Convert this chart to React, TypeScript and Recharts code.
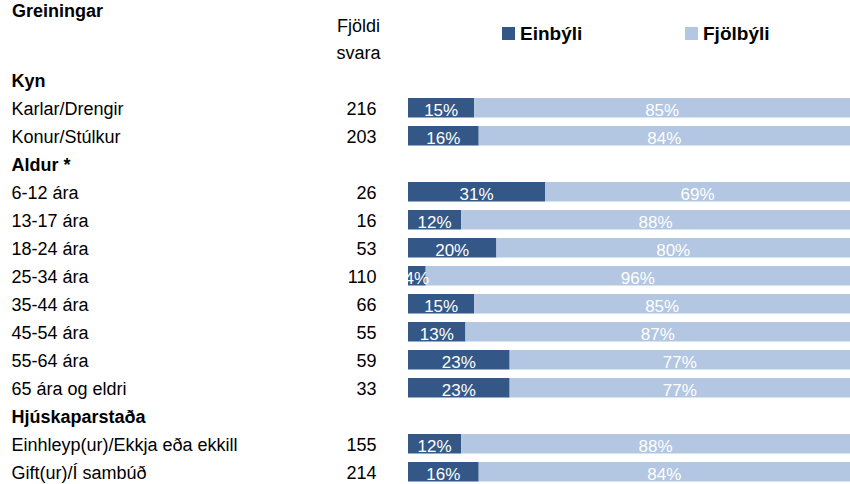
import React from 'react';
import { BarChart, Bar, XAxis, YAxis, LabelList } from 'recharts';

// rows in the order shown, group headings have no count / values
const categories = [
  'Kyn',
  'Karlar/Drengir',
  'Konur/Stúlkur',
  'Aldur *',
  '6-12 ára',
  '13-17 ára',
  '18-24 ára',
  '25-34 ára',
  '35-44 ára',
  '45-54 ára',
  '55-64 ára',
  '65 ára og eldri',
  'Hjúskaparstaða',
  'Einhleyp(ur)/Ekkja eða ekkill',
  'Gift(ur)/Í sambúð',
];
const counts = [null, 216, 203, null, 26, 16, 53, 110, 66, 55, 59, 33, null, 155, 214];
const einbyli = [null, 15, 16, null, 31, 12, 20, 4, 15, 13, 23, 23, null, 12, 16];
const fjolbyli = [null, 85, 84, null, 69, 88, 80, 96, 85, 87, 77, 77, null, 88, 84];

const DARK = '#335887';
const LIGHT = '#B3C6E2';
const FONT = '"Liberation Sans", Arial, sans-serif';

const data = categories.map((name, i) => ({
  name,
  count: counts[i],
  einbyli: einbyli[i],
  fjolbyli: fjolbyli[i],
}));

const RowTick = (props: any) => {
  const { y, payload } = props;
  const row = data.find(d => d.name === payload.value);
  const isHeading = !row || row.count == null;
  return (
    <g>
      <text x={11.5} y={y + 6.5} fontSize={18} fontFamily={FONT} fontWeight={isHeading ? 'bold' : 'normal'} fill="#000">
        {payload.value}
      </text>
      {!isHeading && (
        <text x={376.5} y={y + 6.5} fontSize={18} fontFamily={FONT} textAnchor="end" fill="#000">
          {row!.count}
        </text>
      )}
    </g>
  );
};

// white percentage sitting low in the segment, like the original
const PctLabel = (props: any) => {
  const { x, y, width, height, value } = props;
  if (value == null) return null;
  return (
    <text x={x + width / 2} y={y + height - 2} textAnchor="middle" fontSize={17} fontFamily={FONT} fill="#fff">
      {value}%
    </text>
  );
};

export default function App() {
  return (
    <div style={{ position: 'absolute', left: 0, top: 0, width: 850, height: 484, overflow: 'hidden', background: '#fff' }}>
      <BarChart
        width={850}
        height={486}
        data={data}
        layout="vertical"
        margin={{ top: 66, right: 0, bottom: 0, left: 0 }}
      >
        <XAxis type="number" domain={[0, 100]} hide />
        <YAxis
          type="category"
          dataKey="name"
          width={408}
          axisLine={false}
          tickLine={false}
          interval={0}
          tick={<RowTick />}
        />
        <Bar dataKey="einbyli" stackId="a" fill={DARK} barSize={19.5} isAnimationActive={false}>
          <LabelList dataKey="einbyli" content={<PctLabel />} />
        </Bar>
        <Bar dataKey="fjolbyli" stackId="a" fill={LIGHT} barSize={19.5} isAnimationActive={false}>
          <LabelList dataKey="fjolbyli" content={<PctLabel />} />
        </Bar>
      </BarChart>
      <svg width={850} height={484} style={{ position: 'absolute', left: 0, top: 0, pointerEvents: 'none' }}>
        <text x={12} y={17} fontSize={18} fontWeight="bold" fontFamily={FONT} fill="#000">Greiningar</text>
        <text x={358.5} y={32} fontSize={18} fontFamily={FONT} textAnchor="middle" fill="#000">Fjöldi</text>
        <text x={358.5} y={59} fontSize={18} fontFamily={FONT} textAnchor="middle" fill="#000">svara</text>
        <rect x={502} y={27} width={13} height={13} fill={DARK} />
        <text x={520} y={40} fontSize={19} fontWeight="bold" fontFamily={FONT} fill="#000">Einbýli</text>
        <rect x={685} y={27} width={13} height={13} fill={LIGHT} />
        <text x={703} y={40} fontSize={19} fontWeight="bold" fontFamily={FONT} fill="#000">Fjölbýli</text>
      </svg>
    </div>
  );
}
